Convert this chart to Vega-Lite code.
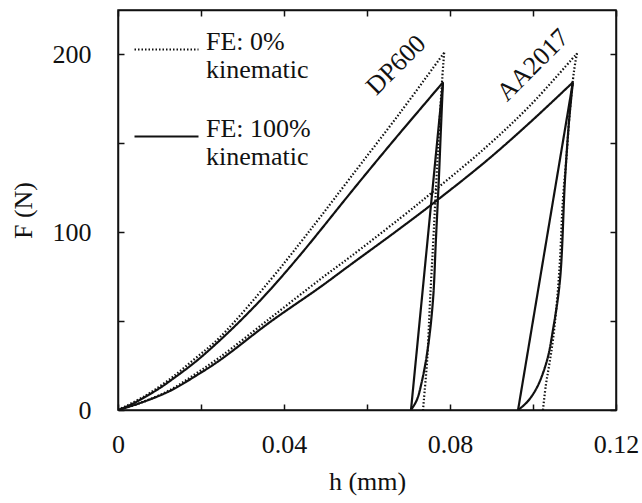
{
  "$schema": "https://vega.github.io/schema/vega-lite/v6.json",
  "width": 498,
  "height": 400,
  "autosize": "none",
  "padding": {"left": 118, "top": 10, "right": 26, "bottom": 93},
  "background": "white",
  "config": {
    "font": "Liberation Serif",
    "view": {"stroke": "#111", "strokeWidth": 1.5},
    "axis": {
      "labelFont": "Liberation Serif", "titleFont": "Liberation Serif",
      "labelFontSize": 26, "titleFontSize": 26, "titleFontWeight": "normal",
      "labelColor": "#111", "titleColor": "#111",
      "domainColor": "#111", "domainWidth": 1.5,
      "tickColor": "#111", "tickWidth": 1.5, "tickSize": -6,
      "grid": false
    }
  },
  "layer": [
    {
      "data": {"values": [
        {"c": "D0L", "m": "FE: 0%|kinematic", "i": 0, "h": 0, "F": 0},
        {"c": "D0L", "m": "FE: 0%|kinematic", "i": 1, "h": 0.0065, "F": 7.9},
        {"c": "D0L", "m": "FE: 0%|kinematic", "i": 2, "h": 0.0125, "F": 17.4},
        {"c": "D0L", "m": "FE: 0%|kinematic", "i": 3, "h": 0.0186, "F": 29.0},
        {"c": "D0L", "m": "FE: 0%|kinematic", "i": 4, "h": 0.0246, "F": 41.0},
        {"c": "D0L", "m": "FE: 0%|kinematic", "i": 5, "h": 0.0366, "F": 72.8},
        {"c": "D0L", "m": "FE: 0%|kinematic", "i": 6, "h": 0.0439, "F": 94.0},
        {"c": "D0L", "m": "FE: 0%|kinematic", "i": 7, "h": 0.0487, "F": 108.4},
        {"c": "D0L", "m": "FE: 0%|kinematic", "i": 8, "h": 0.0559, "F": 130.4},
        {"c": "D0L", "m": "FE: 0%|kinematic", "i": 9, "h": 0.0680, "F": 167.3},
        {"c": "D0L", "m": "FE: 0%|kinematic", "i": 10, "h": 0.0786, "F": 201.0},
        {"c": "D0U", "m": "FE: 0%|kinematic", "i": 0, "h": 0.0786, "F": 201.0},
        {"c": "D0U", "m": "FE: 0%|kinematic", "i": 1, "h": 0.0781, "F": 185.4},
        {"c": "D0U", "m": "FE: 0%|kinematic", "i": 2, "h": 0.0771, "F": 146.1},
        {"c": "D0U", "m": "FE: 0%|kinematic", "i": 3, "h": 0.0761, "F": 101.1},
        {"c": "D0U", "m": "FE: 0%|kinematic", "i": 4, "h": 0.0752, "F": 61.8},
        {"c": "D0U", "m": "FE: 0%|kinematic", "i": 5, "h": 0.0745, "F": 28.1},
        {"c": "D0U", "m": "FE: 0%|kinematic", "i": 6, "h": 0.0737, "F": 5.6},
        {"c": "D0U", "m": "FE: 0%|kinematic", "i": 7, "h": 0.0735, "F": 0},
        {"c": "D1L", "m": "FE: 100%|kinematic", "i": 0, "h": 0, "F": 0},
        {"c": "D1L", "m": "FE: 100%|kinematic", "i": 1, "h": 0.0029, "F": 2.8},
        {"c": "D1L", "m": "FE: 100%|kinematic", "i": 2, "h": 0.0065, "F": 7.3},
        {"c": "D1L", "m": "FE: 100%|kinematic", "i": 3, "h": 0.0101, "F": 12.4},
        {"c": "D1L", "m": "FE: 100%|kinematic", "i": 4, "h": 0.0125, "F": 16.3},
        {"c": "D1L", "m": "FE: 100%|kinematic", "i": 5, "h": 0.0186, "F": 27.0},
        {"c": "D1L", "m": "FE: 100%|kinematic", "i": 6, "h": 0.0246, "F": 39.3},
        {"c": "D1L", "m": "FE: 100%|kinematic", "i": 7, "h": 0.0306, "F": 52.8},
        {"c": "D1L", "m": "FE: 100%|kinematic", "i": 8, "h": 0.0366, "F": 67.5},
        {"c": "D1L", "m": "FE: 100%|kinematic", "i": 9, "h": 0.0439, "F": 87.2},
        {"c": "D1L", "m": "FE: 100%|kinematic", "i": 10, "h": 0.0487, "F": 100.9},
        {"c": "D1L", "m": "FE: 100%|kinematic", "i": 11, "h": 0.0559, "F": 121.8},
        {"c": "D1L", "m": "FE: 100%|kinematic", "i": 12, "h": 0.0619, "F": 138.9},
        {"c": "D1L", "m": "FE: 100%|kinematic", "i": 13, "h": 0.0680, "F": 156.0},
        {"c": "D1L", "m": "FE: 100%|kinematic", "i": 14, "h": 0.0728, "F": 169.2},
        {"c": "D1L", "m": "FE: 100%|kinematic", "i": 15, "h": 0.0783, "F": 184.3},
        {"c": "D1U", "m": "FE: 100%|kinematic", "i": 0, "h": 0.0783, "F": 184.3},
        {"c": "D1U", "m": "FE: 100%|kinematic", "i": 1, "h": 0.0778, "F": 157.3},
        {"c": "D1U", "m": "FE: 100%|kinematic", "i": 2, "h": 0.0773, "F": 129.2},
        {"c": "D1U", "m": "FE: 100%|kinematic", "i": 3, "h": 0.0766, "F": 95.5},
        {"c": "D1U", "m": "FE: 100%|kinematic", "i": 4, "h": 0.0759, "F": 61.8},
        {"c": "D1U", "m": "FE: 100%|kinematic", "i": 5, "h": 0.0747, "F": 35.4},
        {"c": "D1U", "m": "FE: 100%|kinematic", "i": 6, "h": 0.0733, "F": 16.9},
        {"c": "D1U", "m": "FE: 100%|kinematic", "i": 7, "h": 0.0720, "F": 5.6},
        {"c": "D1U", "m": "FE: 100%|kinematic", "i": 8, "h": 0.0706, "F": 0},
        {"c": "D1R", "m": "FE: 100%|kinematic", "i": 0, "h": 0.0706, "F": 0},
        {"c": "D1R", "m": "FE: 100%|kinematic", "i": 1, "h": 0.0783, "F": 184.3},
        {"c": "A0L", "m": "FE: 0%|kinematic", "i": 0, "h": 0, "F": 0},
        {"c": "A0L", "m": "FE: 0%|kinematic", "i": 1, "h": 0.0053, "F": 3.9},
        {"c": "A0L", "m": "FE: 0%|kinematic", "i": 2, "h": 0.0125, "F": 11.2},
        {"c": "A0L", "m": "FE: 0%|kinematic", "i": 3, "h": 0.0186, "F": 20.2},
        {"c": "A0L", "m": "FE: 0%|kinematic", "i": 4, "h": 0.0246, "F": 29.8},
        {"c": "A0L", "m": "FE: 0%|kinematic", "i": 5, "h": 0.0366, "F": 51.5},
        {"c": "A0L", "m": "FE: 0%|kinematic", "i": 6, "h": 0.0487, "F": 73.5},
        {"c": "A0L", "m": "FE: 0%|kinematic", "i": 7, "h": 0.0559, "F": 86.0},
        {"c": "A0L", "m": "FE: 0%|kinematic", "i": 8, "h": 0.0680, "F": 107.9},
        {"c": "A0L", "m": "FE: 0%|kinematic", "i": 9, "h": 0.0769, "F": 124.7},
        {"c": "A0L", "m": "FE: 0%|kinematic", "i": 10, "h": 0.0889, "F": 148.3},
        {"c": "A0L", "m": "FE: 0%|kinematic", "i": 11, "h": 0.0993, "F": 171.3},
        {"c": "A0L", "m": "FE: 0%|kinematic", "i": 12, "h": 0.1106, "F": 200.6},
        {"c": "A0U", "m": "FE: 0%|kinematic", "i": 0, "h": 0.1106, "F": 200.6},
        {"c": "A0U", "m": "FE: 0%|kinematic", "i": 1, "h": 0.1099, "F": 191.0},
        {"c": "A0U", "m": "FE: 0%|kinematic", "i": 2, "h": 0.1089, "F": 168.5},
        {"c": "A0U", "m": "FE: 0%|kinematic", "i": 3, "h": 0.1080, "F": 140.4},
        {"c": "A0U", "m": "FE: 0%|kinematic", "i": 4, "h": 0.1072, "F": 118.0},
        {"c": "A0U", "m": "FE: 0%|kinematic", "i": 5, "h": 0.1065, "F": 84.3},
        {"c": "A0U", "m": "FE: 0%|kinematic", "i": 6, "h": 0.1058, "F": 61.8},
        {"c": "A0U", "m": "FE: 0%|kinematic", "i": 7, "h": 0.1048, "F": 39.3},
        {"c": "A0U", "m": "FE: 0%|kinematic", "i": 8, "h": 0.1039, "F": 25.3},
        {"c": "A0U", "m": "FE: 0%|kinematic", "i": 9, "h": 0.1031, "F": 14.0},
        {"c": "A0U", "m": "FE: 0%|kinematic", "i": 10, "h": 0.1024, "F": 0},
        {"c": "A1L", "m": "FE: 100%|kinematic", "i": 0, "h": 0, "F": 0},
        {"c": "A1L", "m": "FE: 100%|kinematic", "i": 1, "h": 0.0053, "F": 3.9},
        {"c": "A1L", "m": "FE: 100%|kinematic", "i": 2, "h": 0.0125, "F": 10.7},
        {"c": "A1L", "m": "FE: 100%|kinematic", "i": 3, "h": 0.0186, "F": 19.0},
        {"c": "A1L", "m": "FE: 100%|kinematic", "i": 4, "h": 0.0246, "F": 28.1},
        {"c": "A1L", "m": "FE: 100%|kinematic", "i": 5, "h": 0.0366, "F": 49.4},
        {"c": "A1L", "m": "FE: 100%|kinematic", "i": 6, "h": 0.0487, "F": 69.1},
        {"c": "A1L", "m": "FE: 100%|kinematic", "i": 7, "h": 0.0559, "F": 81.5},
        {"c": "A1L", "m": "FE: 100%|kinematic", "i": 8, "h": 0.0680, "F": 102.2},
        {"c": "A1L", "m": "FE: 100%|kinematic", "i": 9, "h": 0.0769, "F": 118.0},
        {"c": "A1L", "m": "FE: 100%|kinematic", "i": 10, "h": 0.0889, "F": 140.4},
        {"c": "A1L", "m": "FE: 100%|kinematic", "i": 11, "h": 0.0993, "F": 161.8},
        {"c": "A1L", "m": "FE: 100%|kinematic", "i": 12, "h": 0.1096, "F": 184.3},
        {"c": "A1U", "m": "FE: 100%|kinematic", "i": 0, "h": 0.1096, "F": 184.3},
        {"c": "A1U", "m": "FE: 100%|kinematic", "i": 1, "h": 0.1087, "F": 162.9},
        {"c": "A1U", "m": "FE: 100%|kinematic", "i": 2, "h": 0.1077, "F": 129.2},
        {"c": "A1U", "m": "FE: 100%|kinematic", "i": 3, "h": 0.1065, "F": 73.0},
        {"c": "A1U", "m": "FE: 100%|kinematic", "i": 4, "h": 0.1048, "F": 44.9},
        {"c": "A1U", "m": "FE: 100%|kinematic", "i": 5, "h": 0.1034, "F": 28.1},
        {"c": "A1U", "m": "FE: 100%|kinematic", "i": 6, "h": 0.1010, "F": 12.9},
        {"c": "A1U", "m": "FE: 100%|kinematic", "i": 7, "h": 0.0986, "F": 4.5},
        {"c": "A1U", "m": "FE: 100%|kinematic", "i": 8, "h": 0.0964, "F": 0},
        {"c": "A1R", "m": "FE: 100%|kinematic", "i": 0, "h": 0.0964, "F": 0},
        {"c": "A1R", "m": "FE: 100%|kinematic", "i": 1, "h": 0.1096, "F": 184.3}
      ]},
      "mark": {"type": "line", "color": "#111", "strokeWidth": 2.2, "strokeCap": "butt", "interpolate": "catmull-rom", "clip": true},
      "encoding": {
        "x": {
          "field": "h", "type": "quantitative",
          "scale": {"domain": [0, 0.12], "nice": false},
          "axis": {
            "orient": "bottom", "title": "h (mm)",
            "values": [0, 0.02, 0.04, 0.06, 0.08, 0.1, 0.12],
            "labelExpr": "datum.value == 0 ? '0' : (round(datum.value * 100) % 4 == 0 ? format(datum.value, '.2f') : '')",
            "labelPadding": 27, "titlePadding": 11, "labelFlush": false, "labelOverlap": false
          }
        },
        "y": {
          "field": "F", "type": "quantitative",
          "scale": {"domain": [0, 225], "nice": false},
          "axis": {
            "orient": "left", "title": "F (N)",
            "values": [0, 50, 100, 150, 200],
            "labelExpr": "datum.value % 100 == 0 ? datum.label : ''",
            "labelPadding": 33, "titlePadding": 16, "labelOverlap": false
          }
        },
        "detail": {"field": "c"},
        "order": {"field": "i", "type": "quantitative"},
        "strokeDash": {
          "field": "m", "type": "nominal",
          "scale": {"domain": ["FE: 0%|kinematic", "FE: 100%|kinematic"], "range": [[1.5, 2], [1, 0]]},
          "legend": {
            "orient": "none", "legendX": 15, "legendY": 6, "padding": 0,
            "title": null, "symbolType": "stroke", "symbolSize": 4096,
            "symbolStrokeWidth": 2.2, "symbolStrokeColor": "#111",
            "labelFont": "Liberation Serif", "labelFontSize": 26, "labelColor": "#111",
            "labelExpr": "split(datum.label, '|')", "labelBaseline": "alphabetic",
            "labelOffset": 6, "labelLimit": 400, "rowPadding": 20
          }
        }
      }
    },
    {
      "data": {"values": [
        {"t": "DP600", "h": 0.067, "F": 194},
        {"t": "AA2017", "h": 0.1, "F": 194}
      ]},
      "mark": {"type": "text", "angle": -45, "fontSize": 26, "font": "Liberation Serif", "color": "#111", "align": "center", "baseline": "middle"},
      "encoding": {
        "x": {"field": "h", "type": "quantitative", "axis": {"orient": "top", "title": null, "labels": false, "values": [0, 0.02, 0.04, 0.06, 0.08, 0.1, 0.12]}},
        "y": {"field": "F", "type": "quantitative", "axis": {"orient": "right", "title": null, "labels": false, "values": [0, 50, 100, 150, 200]}},
        "text": {"field": "t"}
      }
    }
  ],
  "resolve": {"axis": {"x": "independent", "y": "independent"}}
}
